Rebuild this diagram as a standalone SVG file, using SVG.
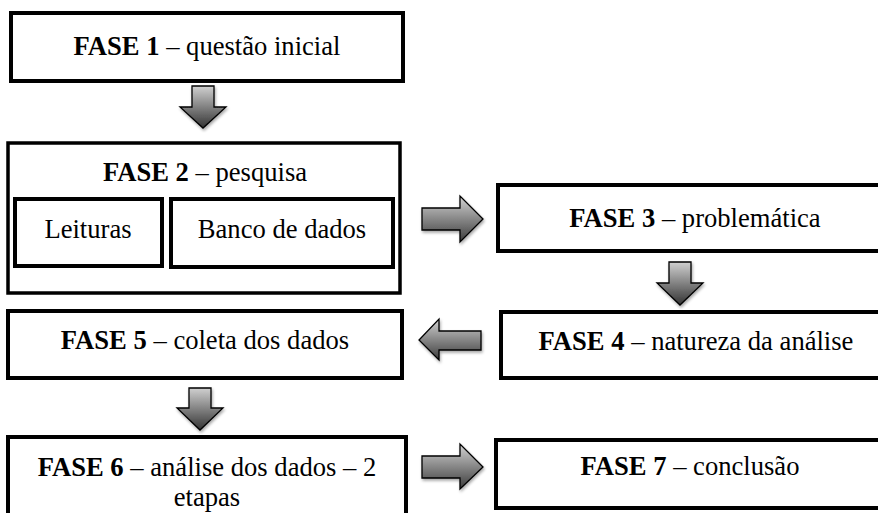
<svg xmlns="http://www.w3.org/2000/svg" width="878" height="513" viewBox="0 0 878 513">
<defs>
<linearGradient id="g" x1="0" y1="0" x2="0" y2="1">
<stop offset="0" stop-color="#d2d2d2"/>
<stop offset="1" stop-color="#3c3c3c"/>
</linearGradient>
<linearGradient id="gd" x1="0" y1="0" x2="0" y2="1">
<stop offset="0" stop-color="#d0d0d0"/>
<stop offset="1" stop-color="#333"/>
</linearGradient>
<filter id="sh" x="-20%" y="-20%" width="150%" height="150%">
<feGaussianBlur in="SourceAlpha" stdDeviation="1.5"/>
<feOffset dx="1" dy="2" result="b"/>
<feComponentTransfer><feFuncA type="linear" slope="0.35"/></feComponentTransfer>
<feMerge><feMergeNode/><feMergeNode in="SourceGraphic"/></feMerge>
</filter>
</defs>
<style>
.box{fill:#fff;stroke:#000;stroke-width:4}
.inner{fill:#fff;stroke:#000;stroke-width:4}
.arr{stroke:#000;stroke-width:1.3;stroke-linejoin:miter}
.t{font-family:'Liberation Serif','Times New Roman',Tinos,'DejaVu Serif',serif;font-size:26.6px;fill:#000;text-anchor:middle}
.b{font-weight:bold}
</style>
<rect width="878" height="513" fill="#fff"/>
<g id="fase1">
<rect class="box" x="11" y="13" width="392" height="68"/>
<text class="t" font-family="Liberation Serif, serif" x="207" y="55"><tspan class="b">FASE 1</tspan> – questão inicial</text>
</g>
<g id="fase2">
<rect class="box" x="8" y="143" width="392" height="150" style="stroke-width:3.5"/>
<text class="t" font-family="Liberation Serif, serif" x="205" y="181"><tspan class="b">FASE 2</tspan> – pesquisa</text>
<g id="leituras">
<rect class="inner" x="15" y="199" width="147" height="67"/>
<text class="t" font-family="Liberation Serif, serif" x="88" y="238">Leituras</text>
</g>
<g id="banco">
<rect class="inner" x="171" y="199" width="222" height="68"/>
<text class="t" font-family="Liberation Serif, serif" x="282" y="238">Banco de dados</text>
</g>
</g>
<g id="fase3">
<rect class="box" x="498" y="185" width="400" height="66"/>
<text class="t" font-family="Liberation Serif, serif" x="695" y="227"><tspan class="b">FASE 3</tspan> – problemática</text>
</g>
<g id="fase4">
<rect class="box" x="501" y="312" width="400" height="66"/>
<text class="t" font-family="Liberation Serif, serif" x="696" y="350"><tspan class="b">FASE 4</tspan> – natureza da análise</text>
</g>
<g id="fase5">
<rect class="box" x="8" y="311" width="394" height="67"/>
<text class="t" font-family="Liberation Serif, serif" x="205" y="349"><tspan class="b">FASE 5</tspan> – coleta dos dados</text>
</g>
<g id="fase6">
<rect class="box" x="8" y="437" width="398" height="90"/>
<text class="t" font-family="Liberation Serif, serif" x="207" y="476"><tspan class="b">FASE 6</tspan> – análise dos dados – 2</text>
<text class="t" font-family="Liberation Serif, serif" x="207" y="506">etapas</text>
</g>
<g id="fase7">
<rect class="box" x="496" y="440" width="400" height="68"/>
<text class="t" font-family="Liberation Serif, serif" x="690" y="475"><tspan class="b">FASE 7</tspan> – conclusão</text>
</g>
<g id="connectors" filter="url(#sh)">
<path class="arr" fill="url(#gd)" d="M192,86 H214 V107 H226 L203,128 L180,107 H192 Z"/>
<path class="arr" fill="url(#gd)" d="M669,262 H691 V283 H703 L680,305 L657,283 H669 Z"/>
<path class="arr" fill="url(#gd)" d="M189,388 H211 V408 H223 L200,430 L177,408 H189 Z"/>
<path class="arr" fill="url(#g)" d="M422,208 H460 V196 L483,219 L460,242 V230 H422 Z"/>
<path class="arr" fill="url(#g)" d="M481,331 H439 V319 L419,340 L439,360 V350 H481 Z"/>
<path class="arr" fill="url(#g)" d="M422,456 H460 V444 L483,467 L460,489 V478 H422 Z"/>
</g>
</svg>
